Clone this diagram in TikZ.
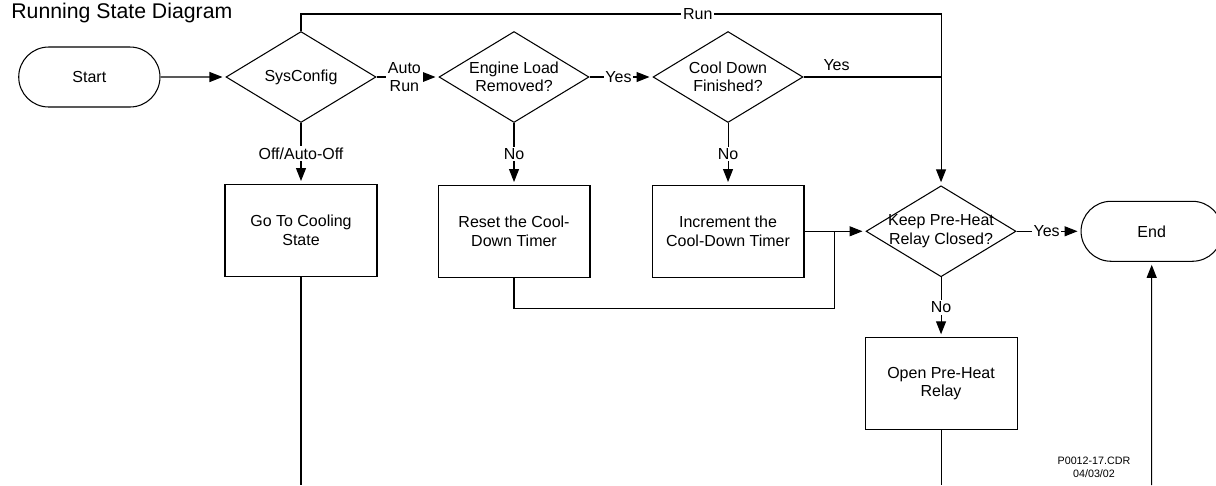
\documentclass[tikz,border=0pt]{standalone}
\usepackage{fontspec}
\setmainfont{Liberation Sans}
\usetikzlibrary{arrows.meta,positioning,shapes.geometric,shapes.misc}

\begin{document}
\begin{tikzpicture}[x=0.02cm, y=-0.02cm, line width=0.6pt,
    font=\fontsize{9.1}{10.4}\selectfont,
    >={Triangle[length=0.26cm,width=0.2cm]},
    terminal/.style={draw, rounded rectangle, minimum width=3.06cm, minimum height=1.2cm},
    decision/.style={draw, diamond, minimum width=3cm, minimum height=1.82cm, inner sep=0pt},
    process/.style={draw, rectangle, minimum width=3.04cm, minimum height=1.83cm, align=center},
    every label/.style={align=center},
    tag/.style={fill=white, inner sep=1pt, align=center}]
    \useasboundingbox (0,0) rectangle (1216,485);

    \node[anchor=base west, font=\fontsize{12.1}{14}\selectfont] (title) at (5,18) {Running State Diagram};

    \node[decision, label=center:{SysConfig}] (sys) at (301,77) {};
    \node[terminal, left=1.3cm of sys] (start) {Start};
    \node[decision, right=1.24cm of sys, label=center:{Engine Load\\Removed?}] (eng) {};
    \node[decision, right=1.26cm of eng, label=center:{Cool Down\\Finished?}] (cool) {};
    \node[process, below=1.22cm of sys] (goto) {Go To Cooling\\State};
    \node[process, below=1.24cm of eng] (reset) {Reset the Cool-\\Down Timer};
    \node[process, below=1.24cm of cool] (inc) {Increment the\\Cool-Down Timer};
    \node[decision, right=1.22cm of inc, label=center:{Keep Pre-Heat\\Relay Closed?}] (keep) {};
    \node[terminal, right=1.28cm of keep] (endn) {End};
    \node[process, below=1.2cm of keep] (open) {Open Pre-Heat\\Relay};

    \node[align=center, font=\fontsize{6.1}{7.3}\selectfont] (drawno) at (1094,467) {P0012-17.CDR\\04/03/02};

    \coordinate (runcorner) at (keep.north |- 0,14);
    \coordinate (yesjoin) at (keep.north |- cool.east);
    \coordinate (merge) at ([xshift=0.6cm]inc.east);
    \coordinate (gobot) at (goto.south |- 0,485);
    \coordinate (openbot) at (open.south |- 0,485);
    \coordinate (endbot) at (endn.south |- 0,485);

    \path[->, shorten >=0.06cm]
    (start) edge (sys)
    (sys) edge node[tag, pos=0.45] {Auto\\Run} (eng)
    (eng) edge node[tag, pos=0.46] {Yes} (cool)
    (sys) edge node[tag] {Off/Auto-Off} (goto)
    (eng) edge node[tag] {No} (reset)
    (cool) edge node[tag] {No} (inc)
    (inc) edge (keep)
    (keep) edge node[tag, pos=0.47] {Yes} (endn)
    (keep) edge node[tag] {No} (open)
    (endbot) edge (endn);

    \draw[->, shorten >=0.06cm] (sys.north) |- node[tag, pos=0.81] {Run} (runcorner) -- (keep.north);
    \draw (cool.east) -- node[above, pos=0.24] {Yes} (yesjoin);
    \draw (reset.south) -- ++(0,31) -| (merge);
    \draw (goto.south) -- (gobot);
    \draw (open.south) -- (openbot);
  \end{tikzpicture}
\end{document}
